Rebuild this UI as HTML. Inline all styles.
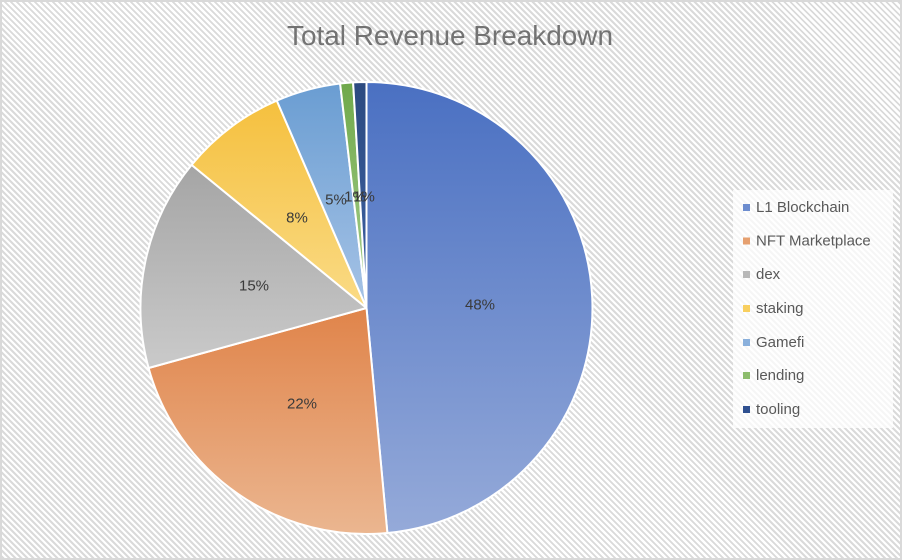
<!DOCTYPE html>
<html>
<head>
<meta charset="utf-8">
<style>
  html, body { margin:0; padding:0; }
  body { width:902px; height:560px; overflow:hidden; background:#fff; }
  .wrap {
    position:absolute; left:0; top:0; width:898px; height:556px;
    border:2px solid #d9d9d9;
    background: repeating-linear-gradient(45deg, #dadada 0px, #dadada 2px, #ffffff 2px, #ffffff 4.24px);
  }
  svg { position:absolute; left:0; top:0; }
  text { font-family:"Liberation Sans", "DejaVu Sans", sans-serif; }
</style>
</head>
<body>
<div class="wrap"></div>
<svg width="902" height="560" viewBox="0 0 902 560" xmlns="http://www.w3.org/2000/svg">
  <defs>
    <linearGradient id="gL1" x1="0" y1="0" x2="0" y2="1">
      <stop offset="0" stop-color="#4a70c2"/><stop offset="1" stop-color="#95aad9"/>
    </linearGradient>
    <linearGradient id="gNFT" x1="0" y1="0" x2="0" y2="1">
      <stop offset="0" stop-color="#e0844a"/><stop offset="1" stop-color="#ebb690"/>
    </linearGradient>
    <linearGradient id="gDex" x1="0" y1="0" x2="0" y2="1">
      <stop offset="0" stop-color="#a5a5a5"/><stop offset="1" stop-color="#cacaca"/>
    </linearGradient>
    <linearGradient id="gStk" x1="0" y1="0" x2="0" y2="1">
      <stop offset="0" stop-color="#f5c03e"/><stop offset="1" stop-color="#fadb86"/>
    </linearGradient>
    <linearGradient id="gGame" x1="0" y1="0" x2="0" y2="1">
      <stop offset="0" stop-color="#6a9dd2"/><stop offset="1" stop-color="#a6c3e6"/>
    </linearGradient>
    <linearGradient id="gLend" x1="0" y1="0" x2="0" y2="1">
      <stop offset="0" stop-color="#6fa84a"/><stop offset="1" stop-color="#a9d08e"/>
    </linearGradient>
    <linearGradient id="gTool" x1="0" y1="0" x2="0" y2="1">
      <stop offset="0" stop-color="#2c4a80"/><stop offset="1" stop-color="#3d62a6"/>
    </linearGradient>
  </defs>

  <text x="450" y="45" font-size="28" fill="#737373" text-anchor="middle" textLength="326" lengthAdjust="spacingAndGlyphs">Total Revenue Breakdown</text>

  <g stroke="#ffffff" stroke-width="2" stroke-linejoin="round">
    <path d="M366.5 308 L366.5 82 A226 226 0 0 1 387.38 533.03 Z" fill="url(#gL1)"/>
    <path d="M366.5 308 L387.38 533.03 A226 226 0 0 1 148.6 368.0 Z" fill="url(#gNFT)"/>
    <path d="M366.5 308 L148.6 368.0 A226 226 0 0 1 191.6 164.9 Z" fill="url(#gDex)"/>
    <path d="M366.5 308 L191.6 164.9 A226 226 0 0 1 276.8 100.6 Z" fill="url(#gStk)"/>
    <path d="M366.5 308 L276.8 100.6 A226 226 0 0 1 340.1 83.5 Z" fill="url(#gGame)"/>
    <path d="M366.5 308 L340.1 83.5 A226 226 0 0 1 353.1 82.4 Z" fill="url(#gLend)"/>
    <path d="M366.5 308 L353.1 82.4 A226 226 0 0 1 366.5 82 Z" fill="url(#gTool)"/>
  </g>

  <g font-size="15" fill="#3a3a3a" text-anchor="middle" dominant-baseline="central">
    <text x="480" y="305">48%</text>
    <text x="302" y="404">22%</text>
    <text x="254" y="286">15%</text>
    <text x="297" y="218">8%</text>
    <text x="336" y="200">5%</text>
    <text x="355" y="197">1%</text>
    <text x="364" y="197">1%</text>
  </g>

  <rect x="733" y="190" width="160" height="238" fill="#ffffff" fill-opacity="0.75"/>
  <g font-size="15" fill="#595959" dominant-baseline="central">
    <rect x="743" y="204" width="7" height="7" fill="#6d8dcf"/>
    <text x="756" y="207.5">L1 Blockchain</text>
    <rect x="743" y="237.5" width="7" height="7" fill="#e6a06f"/>
    <text x="756" y="241">NFT Marketplace</text>
    <rect x="743" y="271" width="7" height="7" fill="#b8b8b8"/>
    <text x="756" y="274.5">dex</text>
    <rect x="743" y="305" width="7" height="7" fill="#f8cf5f"/>
    <text x="756" y="308.5">staking</text>
    <rect x="743" y="339" width="7" height="7" fill="#8ab0dc"/>
    <text x="756" y="342.5">Gamefi</text>
    <rect x="743" y="372" width="7" height="7" fill="#8cbc6c"/>
    <text x="756" y="375.5">lending</text>
    <rect x="743" y="406" width="7" height="7" fill="#2f5090"/>
    <text x="756" y="409.5">tooling</text>
  </g>
</svg>
</body>
</html>
